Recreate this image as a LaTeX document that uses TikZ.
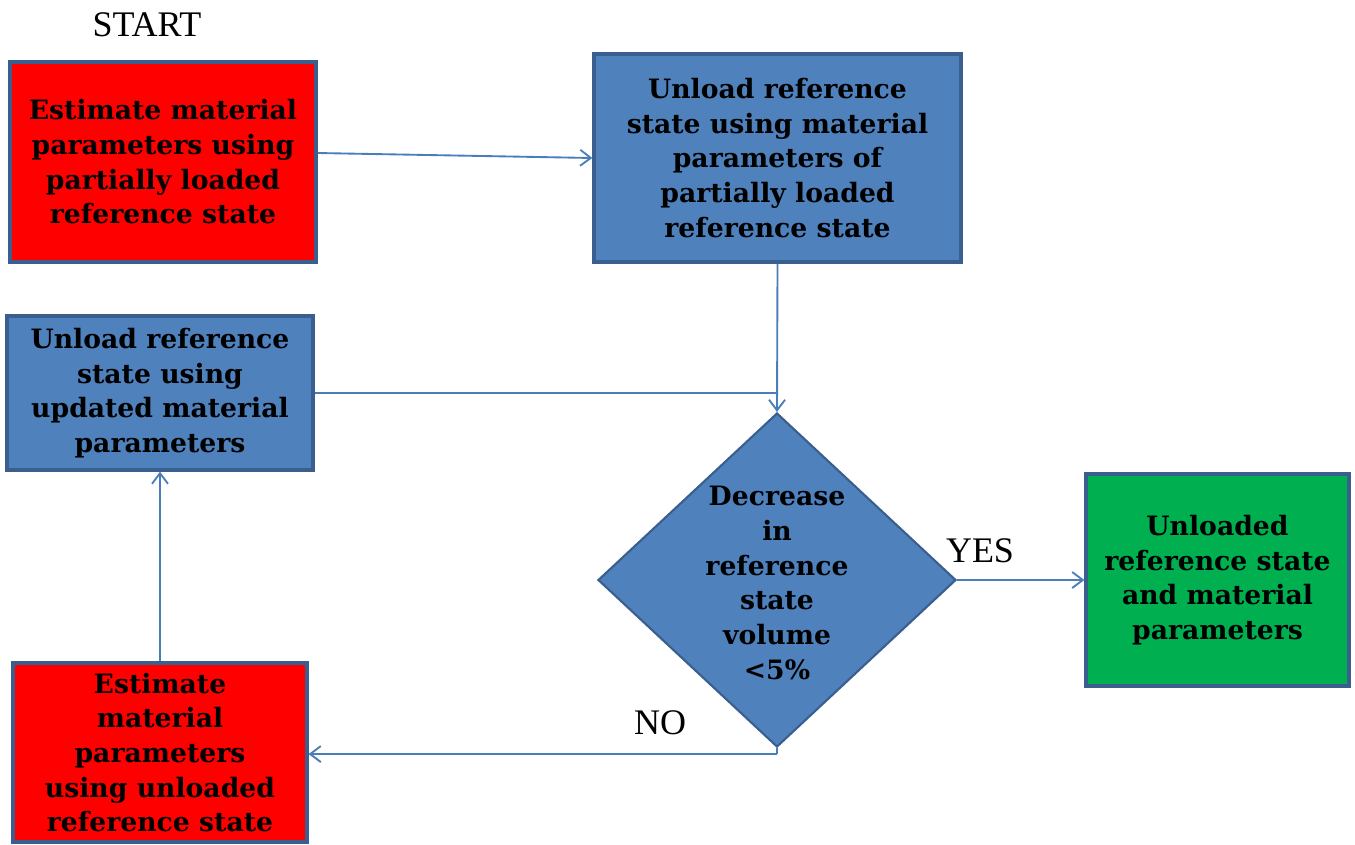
\documentclass[tikz,border=0pt]{standalone}
\usepackage{fontspec}
\setmainfont{Liberation Serif}
\newfontfamily\boxfont{DejaVu Serif}
\usetikzlibrary{shapes.geometric,arrows.meta}
\definecolor{bordc}{HTML}{3A5F8E}
\definecolor{bluef}{HTML}{4F81BD}
\definecolor{redf}{HTML}{FF0000}
\definecolor{greenf}{HTML}{00B050}
\definecolor{linec}{HTML}{4A7EBB}
\tikzset{
  x=0.75pt, y=-0.75pt,
  boxtext/.style={font=\boxfont\bfseries\fontsize{20}{26}\selectfont, align=center, text=black},
  pbox/.style={draw=bordc, line width=2.4pt, inner sep=0pt, boxtext},
  redbox/.style={pbox, fill=redf},
  bluebox/.style={pbox, fill=bluef},
  greenbox/.style={pbox, fill=greenf},
  diabox/.style={draw=bordc, line width=1.6pt, fill=bluef, shape=diamond, inner sep=0pt, shape aspect=1},
  arr/.style={draw=linec, line width=1.4pt, -{Straight Barb[length=8pt,width=12pt,line width=1.4pt]}},
  conn/.style={draw=linec, line width=1.4pt},
  lbl/.style={font=\fontsize{27}{30}\selectfont, text=black, inner sep=0pt}
}
\begin{document}
\begin{tikzpicture}
\useasboundingbox (0,0) rectangle (1355,844);
\node[lbl] (start) at (147,25) {START};
\node[redbox, minimum width=306*0.75pt, minimum height=200*0.75pt] (b1) at (163,162)
  {Estimate material\\parameters using\\partially loaded\\reference state};
\node[bluebox, minimum width=367*0.75pt, minimum height=208*0.75pt] (b2) at (777.5,158)
  {Unload reference\\state using material\\parameters of\\partially loaded\\reference state};
\node[bluebox, minimum width=306*0.75pt, minimum height=154*0.75pt] (b3) at (160,393)
  {Unload reference\\state using\\updated material\\parameters};
\node[diabox, minimum width=358*0.75pt, minimum height=334*0.75pt] (d) at (777,580) {};
\node[boxtext, inner sep=0pt] (dt) at (777,583)
  {Decrease\\in\\reference\\state\\volume\\{<}5\%};
\node[greenbox, minimum width=263*0.75pt, minimum height=212*0.75pt] (g) at (1217.5,580)
  {Unloaded\\reference state\\and material\\parameters};
\node[redbox, minimum width=294*0.75pt, minimum height=179*0.75pt] (b4) at (160,752.5)
  {Estimate\\material\\parameters\\using unloaded\\reference state};
\node[lbl] (yes) at (980,551) {YES};
\node[lbl] (no) at (660,723) {NO};
\coordinate (j) at (b3.east -| b2.south);
\coordinate (nb) at ([yshift=-4.5pt]d.south);
\draw[arr] ([yshift=6.75pt]b1.east) -- (b2.west);
\draw[arr] (b2.south) -- (d.north);
\draw[conn] (b3.east) -- (j);
\draw[arr] (d.east) -- (g.west);
\draw[conn] (d.south) -- (nb);
\draw[arr] (nb) -- (nb -| b4.east);
\draw[arr] (b4.north) -- (b3.south);
\end{tikzpicture}
\end{document}
